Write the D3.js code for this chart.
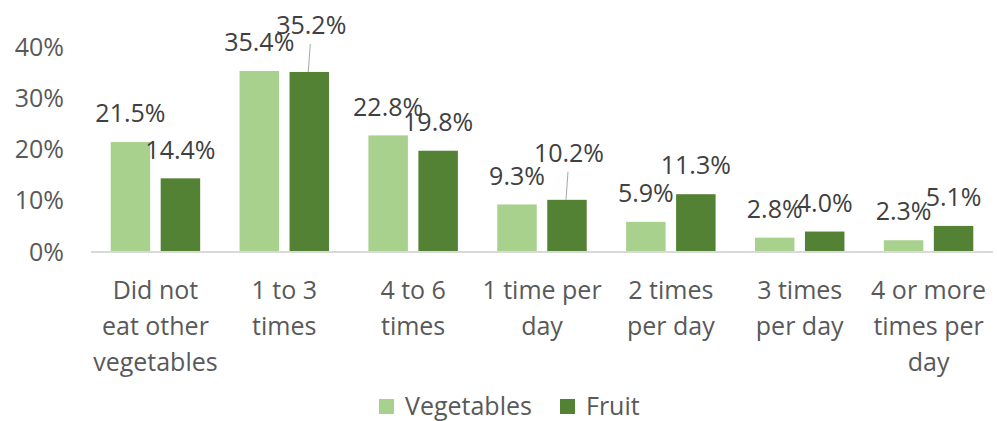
<!DOCTYPE html>
<html>
<head>
<meta charset="utf-8">
<script src="https://cdn.jsdelivr.net/npm/d3@7"></script>
<style>
  body { margin: 0; background: #fff; }
  svg { font-family: "Open Sans", sans-serif; }
</style>
</head>
<body>
<div id="chart"></div>
<script>
    //data
    var categories = ['Did not eat other vegetables', '1 to 3 times', '4 to 6 times',
        '1 time per day', '2 times per day', '3 times per day', '4 or more times per day'];
    var series = ['Vegetables', 'Fruit'];
    var vegetables = [0.215, 0.354, 0.228, 0.093, 0.059, 0.028, 0.023];
    var fruit = [0.144, 0.352, 0.198, 0.102, 0.113, 0.040, 0.051];
    var yTicks = [0, 0.1, 0.2, 0.3, 0.4];
    //labels that were dragged up in the original, with a leader line
    var raisedLabels = ['1 to 3 times|Fruit', '1 time per day|Fruit'];

    //colours
    var $veg = '#a9d18e';
    var $fruit = '#548235';
    var $axisText = '#595959';
    var $labelText = '#404040';

    var width = 997, height = 421;
    var fontSize = 25;

    var svg = d3.select('#chart').append('svg')
        .attr('width', width)
        .attr('height', height);

    var x0 = d3.scaleBand().domain(categories).range([91, 993]);
    var x1 = d3.scaleBand().domain(series).range([0, x0.bandwidth()])
        .paddingInner(0.21).paddingOuter(0.394);
    var y = d3.scaleLinear().domain([0, 0.4]).range([252, 47.4]);
    var color = d3.scaleOrdinal().domain(series).range([$veg, $fruit]);

    var rows = categories.map(function(c, i) {
        return {cat: c, values: [
            {cat: c, key: 'Vegetables', v: vegetables[i]},
            {cat: c, key: 'Fruit', v: fruit[i]}
        ]};
    });

    //y axis labels
    var yAxis = d3.axisLeft(y).tickValues(yTicks).tickFormat(d3.format('.0%')).tickSize(0).tickPadding(0);
    var yG = svg.append('g').attr('transform', 'translate(64,0)').call(yAxis);
    yG.select('.domain').remove();
    yG.selectAll('text')
        .attr('fill', $axisText)
        .style('font-size', fontSize + 'px')
        .style('font-family', '"Open Sans", sans-serif');

    //bars
    var groups = svg.append('g').selectAll('g')
        .data(rows)
        .enter().append('g')
        .attr('transform', function(d) { return 'translate(' + x0(d.cat) + ',0)'; });

    groups.selectAll('rect')
        .data(function(d) { return d.values; })
        .enter().append('rect')
        .attr('x', function(d) { return x1(d.key); })
        .attr('width', x1.bandwidth())
        .attr('y', function(d) { return y(d.v); })
        .attr('height', function(d) { return y(0) - y(d.v); })
        .attr('fill', function(d) { return color(d.key); });

    //baseline
    svg.append('line')
        .attr('x1', x0.range()[0]).attr('x2', x0.range()[1])
        .attr('y1', y(0)).attr('y2', y(0))
        .attr('stroke', '#d9d9d9')
        .attr('stroke-width', 2);

    //data labels
    var lift = 18.5;
    groups.each(function(row) {
        var g = d3.select(this);
        row.values.forEach(function(d) {
            var cx = x1(d.key) + x1.bandwidth() / 2;
            var raised = raisedLabels.indexOf(d.cat + '|' + d.key) >= 0;
            var cy = y(d.v) - 28.5 - (raised ? lift : 0);
            if (raised) {
                g.append('line')
                    .attr('x1', cx + 1).attr('y1', cy + 19)
                    .attr('x2', cx - 1).attr('y2', y(d.v))
                    .attr('stroke', '#a6a6a6')
                    .attr('stroke-width', 1);
            }
            g.append('text')
                .attr('x', cx + (raised ? 2 : 0))
                .attr('y', cy)
                .attr('dy', '0.35em')
                .attr('text-anchor', 'middle')
                .attr('fill', $labelText)
                .style('font-size', fontSize + 'px')
                .text(d3.format('.1%')(d.v));
        });
    });

    //category labels, wrapped to the band width
    function wrapLabel(textSel, maxW) {
        textSel.each(function() {
            var text = d3.select(this);
            var words = text.text().split(' ');
            var xPos = text.attr('x');
            text.text(null);
            var lines = [], line = [];
            var probe = text.append('tspan');
            words.forEach(function(w) {
                line.push(w);
                probe.text(line.join(' '));
                if (probe.node().getComputedTextLength() > maxW && line.length > 1) {
                    line.pop();
                    lines.push(line.join(' '));
                    line = [w];
                }
            });
            lines.push(line.join(' '));
            probe.remove();
            lines.forEach(function(l, i) {
                text.append('tspan')
                    .attr('x', xPos)
                    .attr('dy', i === 0 ? '0.35em' : '36px')
                    .text(l);
            });
        });
    }

    svg.append('g').selectAll('text')
        .data(categories)
        .enter().append('text')
        .attr('x', function(d) { return x0(d) + x0.bandwidth() / 2; })
        .attr('y', 290)
        .attr('text-anchor', 'middle')
        .attr('fill', $axisText)
        .style('font-size', fontSize + 'px')
        .text(function(d) { return d; })
        .call(wrapLabel, 124);

    //legend
    var legendX = [379, 560];
    var legend = svg.append('g').selectAll('g')
        .data(series)
        .enter().append('g')
        .attr('transform', function(d, i) { return 'translate(' + legendX[i] + ',399)'; });

    legend.append('rect')
        .attr('width', 15).attr('height', 15)
        .attr('fill', function(d) { return color(d); });

    legend.append('text')
        .attr('x', 26).attr('y', 7)
        .attr('dy', '0.35em')
        .attr('fill', $axisText)
        .style('font-size', fontSize + 'px')
        .text(function(d) { return d; });
</script>
</body>
</html>
